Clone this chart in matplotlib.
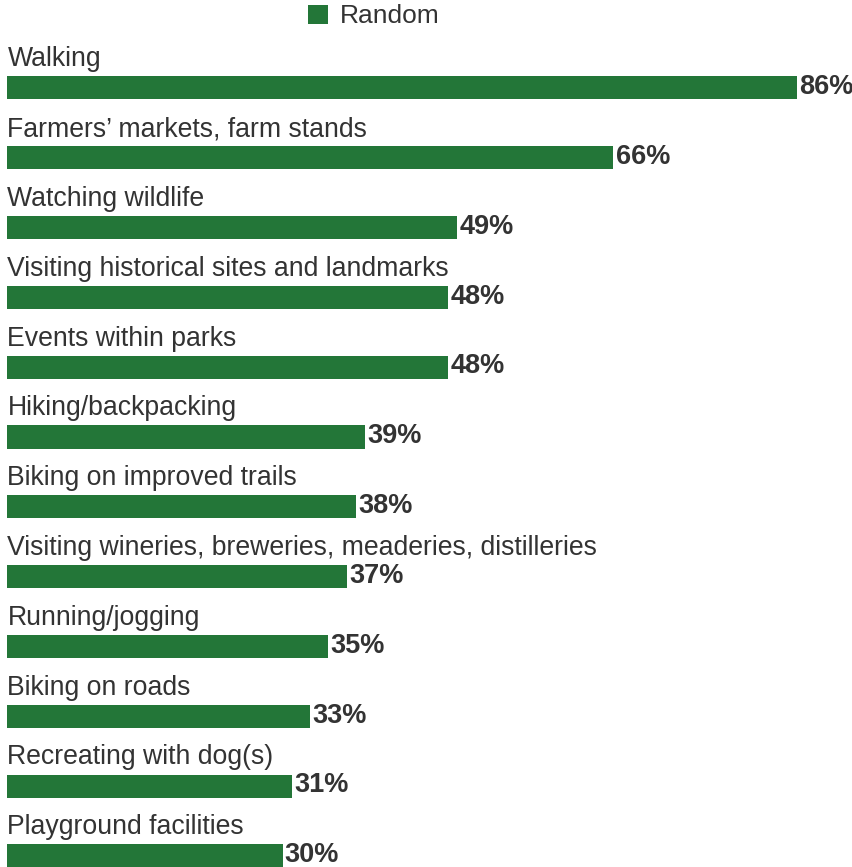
import matplotlib.pyplot as plt

plt.rcParams['font.family'] = ['Liberation Sans', 'DejaVu Sans']

activities = [
    'Walking',
    'Farmers\u2019 markets, farm stands',
    'Watching wildlife',
    'Visiting historical sites and landmarks',
    'Events within parks',
    'Hiking/backpacking',
    'Biking on improved trails',
    'Visiting wineries, breweries, meaderies, distilleries',
    'Running/jogging',
    'Biking on roads',
    'Recreating with dog(s)',
    'Playground facilities',
]
random_pct = [86, 66, 49, 48, 48, 39, 38, 37, 35, 33, 31, 30]

green = '#237638'
text_col = '#333333'

fig = plt.figure(figsize=(8.53, 8.67), dpi=100)
ax = fig.add_axes([0, 0, 1, 1])

pos = list(range(len(activities)))
bars = ax.barh(pos, random_pct, height=0.33, color=green, label='Random')

for i, (name, v) in enumerate(zip(activities, random_pct)):
    ax.text(0.05, i - 0.31, name, ha='left', va='baseline',
            fontsize=19.2, color=text_col)
    ax.text(v + 0.25, i - 0.01, f'{v}%', ha='left', va='center',
            fontsize=19.5, fontweight='bold', color=text_col)

ax.set_xlim(-0.76, 92.1)
ax.set_ylim(11.16, -1.26)
ax.axis('off')

ax.legend(handles=[bars], loc='center left', bbox_to_anchor=(0.361, 0.981),
          frameon=False, fontsize=19, handlelength=0.75, handleheight=0.75,
          handletextpad=0.45, labelcolor=text_col, borderaxespad=0,
          borderpad=0)

fig.savefig('out.png', dpi=100)
